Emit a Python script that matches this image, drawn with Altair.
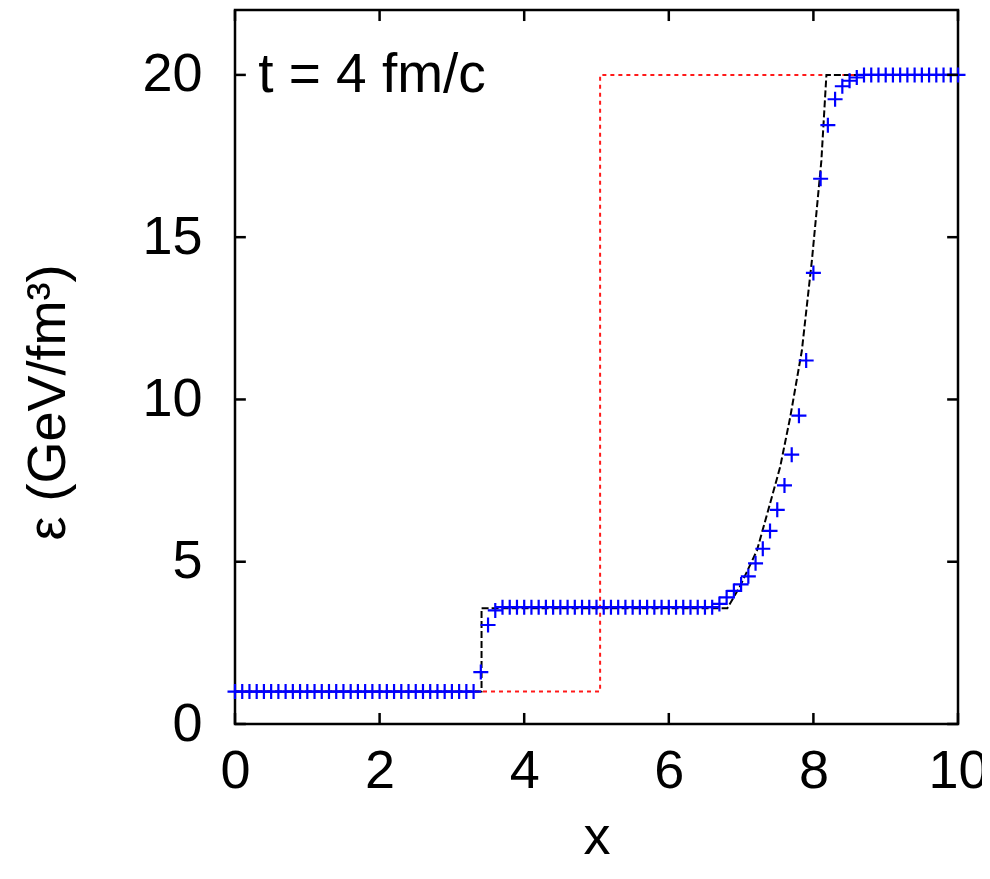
import altair as alt
import pandas as pd

# ---- data ----
marker_x = [0.0, 0.1, 0.2, 0.3, 0.4, 0.5, 0.6, 0.7, 0.8, 0.9,
            1.0, 1.1, 1.2, 1.3, 1.4, 1.5, 1.6, 1.7, 1.8, 1.9,
            2.0, 2.1, 2.2, 2.3, 2.4, 2.5, 2.6, 2.7, 2.8, 2.9,
            3.0, 3.1, 3.2, 3.3, 3.4, 3.5, 3.6, 3.7, 3.8, 3.9,
            4.0, 4.1, 4.2, 4.3, 4.4, 4.5, 4.6, 4.7, 4.8, 4.9,
            5.0, 5.1, 5.2, 5.3, 5.4, 5.5, 5.6, 5.7, 5.8, 5.9,
            6.0, 6.1, 6.2, 6.3, 6.4, 6.5, 6.6, 6.7, 6.8, 6.9,
            7.0, 7.1, 7.2, 7.3, 7.4, 7.5, 7.6, 7.7, 7.8, 7.9,
            8.0, 8.1, 8.2, 8.3, 8.4, 8.5, 8.6, 8.7, 8.8, 8.9,
            9.0, 9.1, 9.2, 9.3, 9.4, 9.5, 9.6, 9.7, 9.8, 9.9,
            10.0]
marker_y = [1.0, 1.0, 1.0, 1.0, 1.0, 1.0, 1.0, 1.0, 1.0, 1.0,
            1.0, 1.0, 1.0, 1.0, 1.0, 1.0, 1.0, 1.0, 1.0, 1.0,
            1.0, 1.0, 1.0, 1.0, 1.0, 1.0, 1.0, 1.0, 1.0, 1.0,
            1.0, 1.0, 1.0, 1.0, 1.6, 3.05, 3.5, 3.6, 3.6, 3.6,
            3.6, 3.6, 3.6, 3.6, 3.6, 3.6, 3.6, 3.6, 3.6, 3.6,
            3.6, 3.6, 3.6, 3.6, 3.6, 3.6, 3.6, 3.6, 3.6, 3.6,
            3.6, 3.6, 3.6, 3.6, 3.6, 3.6, 3.6, 3.7, 3.9, 4.1,
            4.3, 4.55, 4.95, 5.4, 5.95, 6.6, 7.35, 8.3, 9.5, 11.2,
            13.9, 16.8, 18.45, 19.25, 19.65, 19.82, 19.92, 20.0, 20.0, 20.0,
            20.0, 20.0, 20.0, 20.0, 20.0, 20.0, 20.0, 20.0, 20.0, 20.0,
            20.0]

exact_x = [0.0, 3.41, 3.41, 6.81, 6.98, 7.22, 7.40, 7.54, 7.68, 7.84, 7.98, 8.11, 8.18, 10.0]
exact_y = [1.0, 1.0, 3.57, 3.57, 4.22, 5.35, 6.79, 7.92, 9.46, 11.5, 14.3, 17.35, 20.0, 20.0]

init_x = [0.0, 5.05, 5.05, 10.0]
init_y = [1.0, 1.0, 20.0, 20.0]

x_ticks = [0, 2, 4, 6, 8, 10]
y_ticks = [0, 5, 10, 15, 20]
x_tick_len = 0.15   # in x units (inward tick)
y_tick_len = 0.34   # in y units (inward tick)

label_text = ["t = 4 fm/c"]
label_x = [0.32]
label_y = [20.0]

FONT = "Liberation Sans"

# ---- tables ----
df_markers = pd.DataFrame({"x": marker_x, "y": marker_y})
df_exact = pd.DataFrame({"x": exact_x, "y": exact_y, "i": list(range(len(exact_x)))})
df_init = pd.DataFrame({"x": init_x, "y": init_y, "i": list(range(len(init_x)))})
df_xt_bottom = pd.DataFrame({"x": x_ticks, "y": [0.0] * len(x_ticks), "y2": [y_tick_len] * len(x_ticks)})
df_xt_top = pd.DataFrame({"x": x_ticks, "y": [22.0] * len(x_ticks), "y2": [22.0 - y_tick_len] * len(x_ticks)})
df_yt_left = pd.DataFrame({"y": y_ticks, "x": [0.0] * len(y_ticks), "x2": [x_tick_len] * len(y_ticks)})
df_yt_right = pd.DataFrame({"y": y_ticks, "x": [10.0] * len(y_ticks), "x2": [10.0 - x_tick_len] * len(y_ticks)})
df_label = pd.DataFrame({"x": label_x, "y": label_y, "t": label_text})

xs = alt.Scale(domain=[0, 10], nice=False, zero=False)
ys = alt.Scale(domain=[0, 22], nice=False, zero=False)

x_axis = alt.Axis(values=x_ticks, title="x", ticks=False, domain=False, grid=False,
                  labelFont=FONT, labelFontSize=54, labelColor="black", labelPadding=20,
                  labelFlush=False, labelOverlap=False,
                  titleFont=FONT, titleFontSize=54, titleFontWeight="normal",
                  titleColor="black", titlePadding=12)
y_axis = alt.Axis(values=y_ticks, title="ε (GeV/fm³)", ticks=False, domain=False, grid=False,
                  labelFont=FONT, labelFontSize=54, labelColor="black", labelPadding=33,
                  labelFlush=False, labelOverlap=False,
                  titleFont=FONT, titleFontSize=54, titleFontWeight="normal",
                  titleColor="black", titlePadding=66, titleY=392)

X = alt.X("x:Q", scale=xs, axis=x_axis)
Y = alt.Y("y:Q", scale=ys, axis=y_axis)

init_line = alt.Chart(df_init).mark_line(color="#ff1a1a", strokeWidth=2, strokeDash=[4, 4]).encode(
    x=X, y=Y, order="i:Q")
exact_line = alt.Chart(df_exact).mark_line(color="black", strokeWidth=2, strokeDash=[7, 3]).encode(
    x=X, y=Y, order="i:Q")
markers = alt.Chart(df_markers).mark_point(
    shape="M-1,0L1,0M0,-1L0,1", size=225, filled=False, color="#0000ff",
    strokeWidth=2.2, opacity=1).encode(x=X, y=Y)

tick_style = dict(color="black", strokeWidth=2.5)
t_bottom = alt.Chart(df_xt_bottom).mark_rule(**tick_style).encode(x=X, y=Y, y2="y2:Q")
t_top = alt.Chart(df_xt_top).mark_rule(**tick_style).encode(x=X, y=Y, y2="y2:Q")
t_left = alt.Chart(df_yt_left).mark_rule(**tick_style).encode(x=X, x2="x2:Q", y=Y)
t_right = alt.Chart(df_yt_right).mark_rule(**tick_style).encode(x=X, x2="x2:Q", y=Y)

label = alt.Chart(df_label).mark_text(align="left", baseline="middle", font=FONT,
                                      fontSize=55, color="black").encode(x=X, y=Y, text="t:N")

chart = alt.layer(init_line, exact_line, markers, t_bottom, t_top, t_left, t_right, label).properties(
    width=723, height=714,
    padding={"left": 227, "top": 2, "right": 24, "bottom": 147},
    autosize=alt.AutoSizeParams(type="none"),
).configure_view(stroke="black", strokeWidth=2.5)

chart.save("out.html", embed_options={"renderer": "svg", "actions": False})
